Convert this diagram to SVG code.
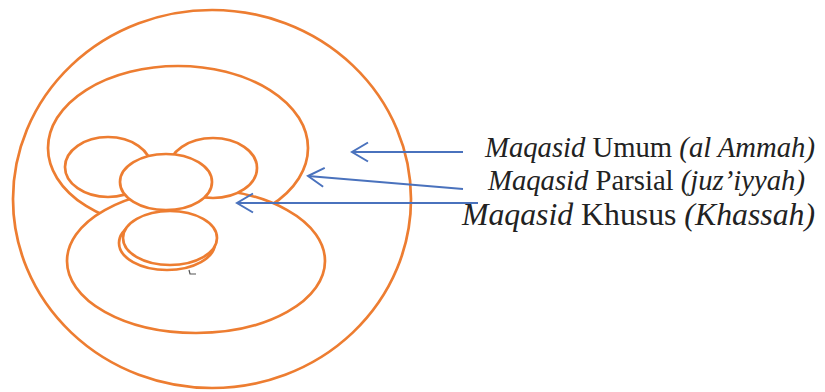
<svg xmlns="http://www.w3.org/2000/svg" width="825" height="392" viewBox="0 0 825 392">
<style>
.o{fill:#fff;stroke:#ED7D31;stroke-width:2.7}
.c{fill:none;stroke:#4a72bd;stroke-width:1.8}
.t{fill:#222}
.i{font-style:italic}
</style>
<defs>
<marker id="ah" viewBox="-20 -12 22 24" refX="0" refY="0" markerWidth="22" markerHeight="24" markerUnits="userSpaceOnUse" orient="auto">
<path d="M-16,-9.5 L0,0 L-16,9.5" fill="none" stroke="#4a72bd" stroke-width="2"/>
</marker>
</defs>
<rect width="825" height="392" fill="#fff"/>
<g id="umum"><ellipse class="o" cx="212" cy="199" rx="199" ry="189"/></g>
<g id="parsial-upper"><ellipse class="o" cx="178" cy="148" rx="130" ry="82"/></g>
<g id="parsial-lower"><ellipse class="o" cx="196" cy="261" rx="129" ry="72"/></g>
<g id="khusus-left"><ellipse class="o" cx="108" cy="167" rx="43" ry="30"/></g>
<g id="khusus-right"><ellipse class="o" cx="213" cy="168" rx="44" ry="30"/></g>
<g id="khusus-center"><ellipse class="o" cx="166" cy="182" rx="46" ry="28"/></g>
<g id="khusus-bottom">
<ellipse class="o" cx="167" cy="243" rx="48" ry="27"/>
<ellipse class="o" cx="170" cy="238" rx="47" ry="27"/>
<path d="M189,270 L190,274 L196,274" fill="none" stroke="#555" stroke-width="1.2"/>
</g>
<g id="connectors">
<line class="c" x1="463" y1="152" x2="352" y2="152" marker-end="url(#ah)"/>
<line class="c" x1="463" y1="189" x2="308" y2="176" marker-end="url(#ah)"/>
<line class="c" x1="478" y1="203" x2="237" y2="203" marker-end="url(#ah)"/>
</g>
<g id="label-umum"><text class="t" font-family="'Liberation Serif', 'Times New Roman', serif" x="485" y="157" font-size="29" textLength="330" lengthAdjust="spacingAndGlyphs"><tspan class="i">Maqasid</tspan> Umum <tspan class="i">(al Ammah)</tspan></text></g>
<g id="label-parsial"><text class="t" font-family="'Liberation Serif', 'Times New Roman', serif" x="488" y="190" font-size="29" textLength="317" lengthAdjust="spacingAndGlyphs"><tspan class="i">Maqasid</tspan> Parsial <tspan class="i">(juz’iyyah)</tspan></text></g>
<g id="label-khusus"><text class="t" font-family="'Liberation Serif', 'Times New Roman', serif" x="462" y="225" font-size="31.5" textLength="353" lengthAdjust="spacingAndGlyphs"><tspan class="i">Maqasid</tspan> Khusus <tspan class="i">(Khassah)</tspan></text></g>
</svg>
